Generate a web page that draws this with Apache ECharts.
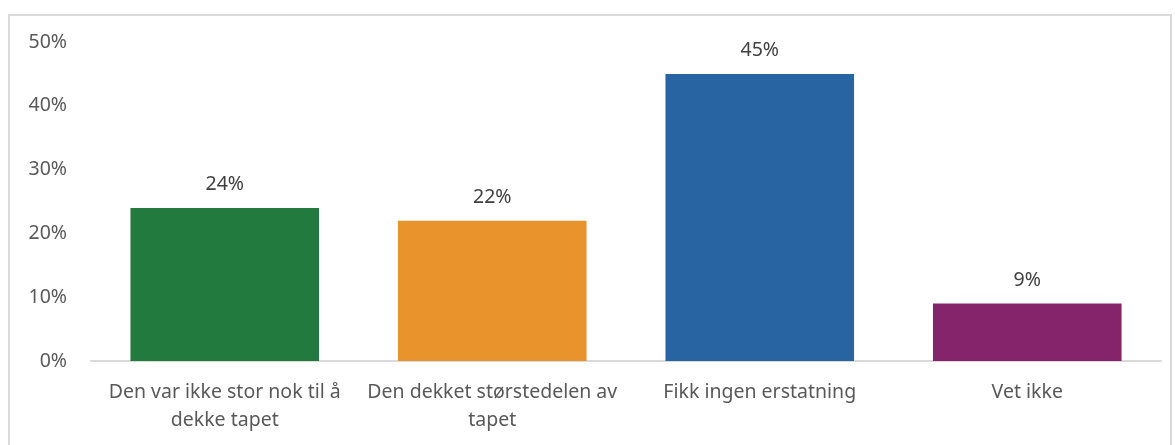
<!DOCTYPE html>
<html>
<head>
<meta charset="utf-8">
<script src="https://cdn.jsdelivr.net/npm/echarts@6/dist/echarts.min.js"></script>
<style>
  html, body { margin: 0; padding: 0; background: #fff; }
  #frame { position: absolute; left: 8px; top: 14px; width: 1164px; height: 440px; border: 2px solid #d9d9d9; box-sizing: border-box; }
  #chart { position: absolute; left: 0; top: 0; width: 1175px; height: 445px; }
</style>
</head>
<body>
<div id="frame"></div>
<div id="chart"></div>
<script>
const categories = [
  'Den var ikke stor nok til å\ndekke tapet',
  'Den dekket størstedelen av\ntapet',
  'Fikk ingen erstatning',
  'Vet ikke'
];
const shares = [24, 22, 45, 9];
const barColors = ['#237A3E', '#E8932B', '#2764A1', '#85246A'];
const yTicks = [0, 10, 20, 30, 40, 50];

const chart = echarts.init(document.getElementById('chart'), null, { renderer: 'canvas' });
const font = '"Noto Sans", "Open Sans", sans-serif';
chart.setOption({
  animation: false,
  grid: { left: 91, right: 14, top: 42, bottom: 84 },
  xAxis: {
    type: 'category',
    data: categories,
    axisLine: { lineStyle: { color: '#d9d9d9', width: 2 } },
    axisTick: { show: false },
    axisLabel: { color: '#595959', fontFamily: font, fontSize: 19.5, lineHeight: 28, margin: 17, interval: 0 }
  },
  yAxis: {
    type: 'value',
    min: yTicks[0],
    max: yTicks[yTicks.length - 1],
    interval: 10,
    splitLine: { show: false },
    axisLine: { show: false },
    axisTick: { show: false },
    axisLabel: { color: '#595959', fontFamily: font, fontSize: 19.5, margin: 24, formatter: v => v + '%' }
  },
  series: [{
    type: 'bar',
    data: shares.map((v, i) => ({ value: v, itemStyle: { color: barColors[i] } })),
    barCategoryGap: '29.5%',
    label: { show: true, position: 'top', distance: 13, color: '#404040', fontFamily: font, fontSize: 19.5, formatter: p => p.value + '%' }
  }]
});
</script>
</body>
</html>
